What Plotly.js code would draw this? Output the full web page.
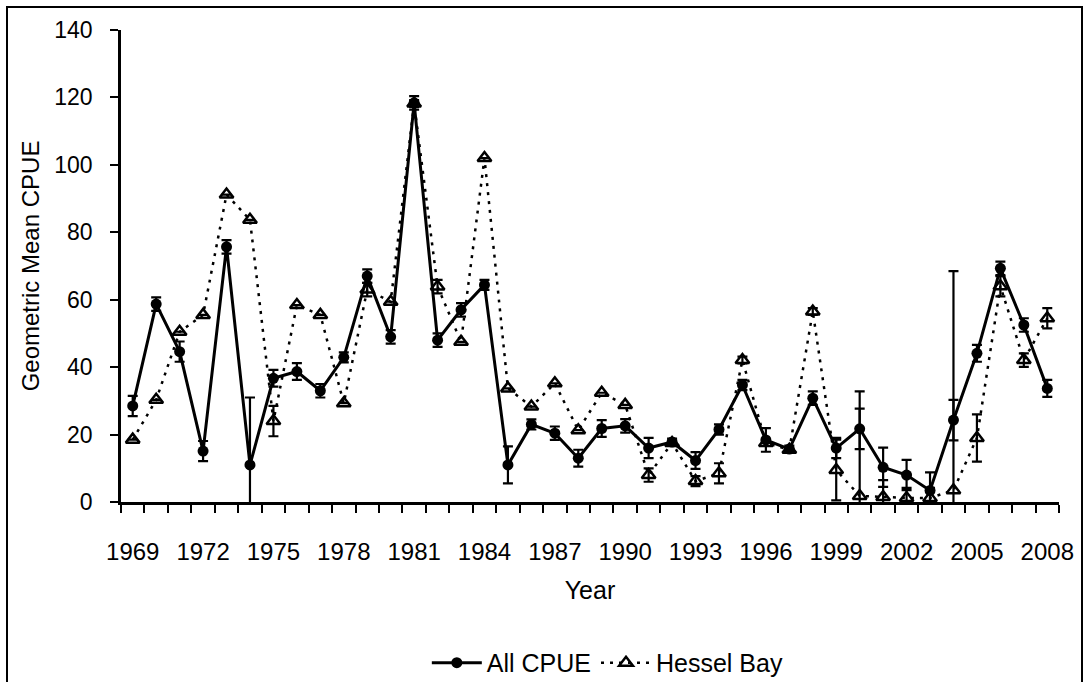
<!DOCTYPE html>
<html>
<head>
<meta charset="utf-8">
<script src="https://cdn.plot.ly/plotly-3.0.1.min.js"></script>
<style>
  html, body { margin: 0; padding: 0; background: #fff; }
  #wrap { position: relative; width: 1087px; height: 682px; overflow: hidden; }
  #frame { position: absolute; left: 6px; top: 6px; width: 1077px; height: 700px; border: 2px solid #000; box-sizing: border-box; pointer-events: none; z-index: 5; }
  #chart { position: absolute; left: 0; top: 0; width: 1087px; height: 682px; }
</style>
</head>
<body>
<div id="wrap">
  <div id="chart"></div>
  <div id="frame"></div>
</div>
<script>
const years = [1969,1970,1971,1972,1973,1974,1975,1976,1977,1978,
               1979,1980,1981,1982,1983,1984,1985,1986,1987,1988,
               1989,1990,1991,1992,1993,1994,1995,1996,1997,1998,
               1999,2000,2001,2002,2003,2004,2005,2006,2007,2008];

const allCPUE = [28.5,58.7,44.6,15.1,75.7,11.0,36.7,38.7,33.0,42.9,
                 67.0,49.0,118.4,48.0,57.0,64.4,11.0,23.0,20.4,13.0,
                 21.8,22.6,16.0,17.8,12.3,21.5,34.7,18.4,15.7,30.8,
                 16.0,21.7,10.3,8.0,3.4,24.3,44.1,69.3,52.5,33.7];

const allErr = [3,2,3,3,2,20,2.5,2.5,2,1.5,
                2,2,2,2,2,1.5,5.5,1.5,2,2.5,
                2.5,2,3,1,2.5,1.5,1.5,3.5,1,2,
                3,6,5.8,4.5,5.4,6,2.5,2,2,2.5];

const hesselBay = [18.5,30.3,50.5,55.5,91.2,83.7,24.0,58.4,55.5,29.3,
                   63.0,59.4,118.2,63.9,47.5,102.0,33.7,28.3,35.2,21.3,
                   32.4,28.8,8.0,17.5,6.2,8.5,42.1,17.5,15.5,56.5,
                   9.5,1.8,1.5,1.2,1.2,3.5,19.0,64.0,42.1,54.5];

const hesselErr = [0,0,0,0,0,0,4.5,0,0,0,
                   2,0,1,2,0,0,0,0,0,0,
                   0,0,2,0,1.5,3,1,0,0,1,
                   9,31,5,3,3,65,7,3,2,3];

const tickYears = years.filter(y => (y - years[0]) % 3 === 0);
const boundaries = years.map(y => y - 0.5).concat([years[years.length-1] + 0.5]);

const FONT = 'Liberation Sans, Arial, sans-serif';

const traceAll = {
  x: years, y: allCPUE, name: 'All CPUE', type: 'scatter', mode: 'lines+markers',
  line: {color: '#000', width: 3, dash: 'solid'},
  marker: {symbol: 'circle', size: 11, color: '#000'},
  error_y: {type: 'data', array: allErr, visible: true, color: '#000', thickness: 2.2, width: 5}
};
const traceHB = {
  x: years, y: hesselBay, name: 'Hessel Bay', type: 'scatter', mode: 'lines+markers',
  line: {color: '#000', width: 2.5, dash: '3px,6px'},
  marker: {symbol: 'triangle-up-open', size: 12, color: '#000', line: {color: '#000', width: 2.5}},
  error_y: {type: 'data', array: hesselErr, visible: true, color: '#000', thickness: 2.2, width: 5}
};

const layout = {
  width: 1087, height: 682,
  margin: {l: 121, r: 28, t: 30, b: 180, autoexpand: false},
  paper_bgcolor: '#fff', plot_bgcolor: '#fff',
  font: {family: FONT, color: '#000', size: 23},
  showlegend: true,
  legend: {orientation: 'h', x: 0.519, xanchor: 'center', y: -0.341, yanchor: 'middle',
           itemwidth: 50,
           font: {family: FONT, size: 25, color: '#000'}, tracegroupgap: 0},
  xaxis: {
    range: [years[0] - 0.5, years[years.length-1] + 0.5],
    tickmode: 'array', tickvals: tickYears, ticktext: tickYears.map(String),
    ticks: 'outside', ticklen: 26, tickcolor: 'rgba(0,0,0,0)', showgrid: false, zeroline: false,
    showline: true, linecolor: '#000', linewidth: 3,
    tickfont: {family: FONT, size: 24, color: '#000'},
    minor: {tickmode: 'array', tickvals: boundaries, ticks: 'outside', ticklen: 8, tickwidth: 2, tickcolor: '#000', showgrid: false},
    title: {text: 'Year', font: {family: FONT, size: 25, color: '#000'}, standoff: 18}
  },
  yaxis: {
    range: [0, 140], tickmode: 'linear', tick0: 0, dtick: 20,
    ticks: 'outside', ticklen: 8, tickwidth: 2, tickcolor: '#000',
    ticksuffix: '  ',
    showgrid: false, zeroline: false,
    showline: true, linecolor: '#000', linewidth: 3,
    tickfont: {family: FONT, size: 23, color: '#000'},
    title: {text: 'Geometric Mean CPUE', font: {family: FONT, size: 24, color: '#000'}, standoff: 8}
  }
};

Plotly.newPlot('chart', [traceAll, traceHB], layout, {displayModeBar: false, staticPlot: true});
</script>
</body>
</html>
